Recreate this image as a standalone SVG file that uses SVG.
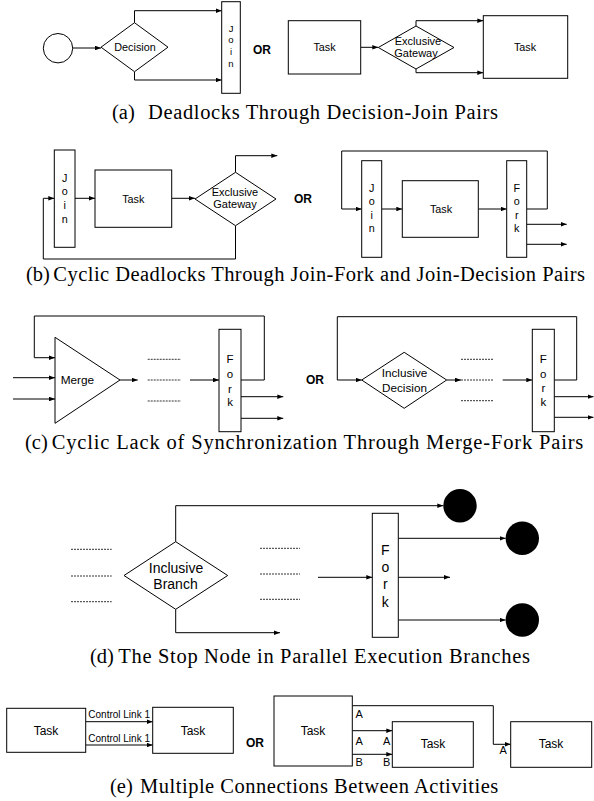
<svg xmlns="http://www.w3.org/2000/svg" width="594" height="801" viewBox="0 0 594 801">
<style>
.ln{fill:none;stroke:#000;stroke-width:1}
.ar{fill:none;stroke:#000;stroke-width:1;marker-end:url(#ah)}
.bx{fill:#fff;stroke:#000;stroke-width:1}
.ds{fill:none;stroke:#333;stroke-width:1;stroke-dasharray:2 1}
.t{font-family:"Liberation Sans",Arial,sans-serif;font-size:10.8px;fill:#000;text-anchor:middle}
.ts{font-family:"Liberation Sans",Arial,sans-serif;font-size:10px;fill:#000}
.or{font-family:"Liberation Sans",Arial,sans-serif;font-size:12px;font-weight:bold;fill:#000}
.cap{font-family:"Liberation Serif","Times New Roman",serif;font-size:20.5px;fill:#000}
</style>
<defs>
<marker id="ah" viewBox="0 0 6 4.6" refX="6" refY="2.3" markerWidth="6" markerHeight="4.6" orient="auto" markerUnits="userSpaceOnUse"><path d="M0,0 L6,2.3 L0,4.6 z" fill="#000"/></marker>
</defs>

<g id="connectors">
<!-- (a) -->
<path class="ar" d="M72.7,48 H101"/>
<path class="ar" d="M134.5,22.7 V10.7 H221.7"/>
<path class="ar" d="M134.5,71.7 V80 H221.7"/>
<path class="ar" d="M360.7,47.3 H378.3"/>
<path class="ar" d="M416,26 V20.7 H483.3"/>
<path class="ar" d="M416,69 V72.7 H483.3"/>
<!-- (b) -->
<path class="ar" d="M75,198.3 H95"/>
<path class="ar" d="M171.7,198.3 H195"/>
<path class="ar" d="M235.5,172.3 V155.7 H277.3"/>
<path class="ar" d="M235.5,225.7 V259 H43.3 V198.3 H54.3"/>
<path class="ar" d="M526.7,209 H547.3 V151 H341.7 V209 H361.7"/>
<path class="ar" d="M381.7,209 H402.3"/>
<path class="ar" d="M478.3,209 H506.7"/>
<path class="ar" d="M526.7,224.3 H566.7"/>
<path class="ar" d="M526.7,244.3 H566.7"/>
<!-- (c) -->
<path class="ar" d="M241,380 H264.3 V316 H34.3 V357.7 H55"/>
<path class="ar" d="M13,377.7 H55"/>
<path class="ar" d="M13,399 H55"/>
<path class="ar" d="M120,380 H137.7"/>
<path class="ds" d="M147.7,359.3 H181 M147.7,380 H181 M147.7,401 H181"/>
<path class="ar" d="M190,380 H219"/>
<path class="ar" d="M241,396.7 H283.3"/>
<path class="ar" d="M241,418.3 H283.3"/>
<path class="ar" d="M554.3,380 H576.7 V316.7 H337.3 V380 H361.7"/>
<path class="ar" d="M446.7,380 H461"/>
<path class="ds" d="M461,359.3 H493.3 M461,380 H493.3 M461,400.7 H493.3"/>
<path class="ar" d="M502.7,380 H532.3"/>
<path class="ar" d="M554.3,396.7 H593.5"/>
<path class="ar" d="M554.3,417.3 H593.5"/>
<!-- (d) -->
<path class="ds" d="M71,549.3 H111.7 M71,576 H111.7 M71,601.7 H111.7"/>
<path class="ar" d="M175.7,541.7 V505.7 H443.3"/>
<path class="ar" d="M175.7,609.3 V632.7 H280"/>
<path class="ds" d="M260,548.3 H300 M260,574 H300 M260,599.3 H300"/>
<path class="ar" d="M318,577.3 H372.3"/>
<path class="ar" d="M398.3,538.3 H505.6"/>
<path class="ar" d="M398.3,577.3 H450"/>
<path class="ar" d="M398.3,620 H505.6"/>
<!-- (e) -->
<path class="ar" d="M85.7,721.7 H152.7"/>
<path class="ar" d="M85.7,745 H152.7"/>
<path class="ar" d="M352.3,705.7 H493.3 V744.3 H510.7"/>
<path class="ar" d="M352.3,730.7 H392.3"/>
<path class="ar" d="M352.3,754.3 H392.3"/>
<text class="ts" x="88.3" y="718">Control Link 1</text>
<text class="ts" x="88.3" y="741.7">Control Link 1</text>
<text class="ts" x="355.5" y="718" style="font-size:11px">A</text>
<text class="ts" x="355.5" y="745" style="font-size:11px">A</text>
<text class="ts" x="383" y="745" style="font-size:11px">A</text>
<text class="ts" x="355.5" y="766" style="font-size:11px">B</text>
<text class="ts" x="383" y="766" style="font-size:11px">B</text>
<text class="ts" x="499.5" y="754" style="font-size:11px">A</text>
</g>

<!-- (a) nodes -->
<g id="a-start"><circle class="bx" cx="58" cy="48.2" r="14.7"/></g>
<g id="a-decision"><polygon class="bx" points="101,47.2 134.5,22.7 168,47.2 134.5,71.7"/><text class="t" x="135" y="51">Decision</text></g>
<g id="a-join"><rect class="bx" x="221.7" y="1.7" width="18.6" height="91.6"/>
<text class="t" style="font-size:9.5px" x="231" y="31.5">J</text><text class="t" style="font-size:9.5px" x="231" y="43">o</text><text class="t" style="font-size:9.5px" x="231" y="54.5">i</text><text class="t" style="font-size:9.5px" x="231" y="66.5">n</text></g>
<g id="a-or"><text class="or" x="253" y="54">OR</text></g>
<g id="a-task1"><rect class="bx" x="288.3" y="20.7" width="72.4" height="53.3"/><text class="t" x="324.5" y="50.5">Task</text></g>
<g id="a-gateway"><polygon class="bx" points="378.3,47.5 416,26 454,47.5 416,69"/><text class="t" style="font-size:11px" x="418" y="45">Exclusive</text><text class="t" style="font-size:11px" x="416" y="57">Gateway</text></g>
<g id="a-task2"><rect class="bx" x="483.3" y="15.7" width="84.4" height="62.6"/><text class="t" x="525" y="50.5">Task</text></g>
<g id="cap-a"><text class="cap" x="112" y="119">(a)</text><text class="cap" x="148" y="119" textLength="350" lengthAdjust="spacing">Deadlocks Through Decision-Join Pairs</text></g>

<!-- (b) nodes -->
<g id="b-join1"><rect class="bx" x="54.3" y="150" width="20.7" height="97.3"/>
<text class="t" x="64.7" y="181.5">J</text><text class="t" x="64.7" y="195">o</text><text class="t" x="64.7" y="209">i</text><text class="t" x="64.7" y="222.5">n</text></g>
<g id="b-task1"><rect class="bx" x="95" y="170" width="76.7" height="57.3"/><text class="t" x="133.3" y="202.5">Task</text></g>
<g id="b-gateway"><polygon class="bx" points="195,199 235.5,172.3 276,199 235.5,225.7"/><text class="t" style="font-size:11px" x="235" y="196">Exclusive</text><text class="t" style="font-size:11px" x="235" y="208.3">Gateway</text></g>
<g id="b-or"><text class="or" x="294" y="203.3">OR</text></g>
<g id="b-join2"><rect class="bx" x="361.7" y="160.7" width="20" height="96.6"/>
<text class="t" x="371.7" y="191.5">J</text><text class="t" x="371.7" y="205">o</text><text class="t" x="371.7" y="218.5">i</text><text class="t" x="371.7" y="232">n</text></g>
<g id="b-task2"><rect class="bx" x="402.3" y="180.7" width="76" height="56.6"/><text class="t" x="441" y="212.5">Task</text></g>
<g id="b-fork"><rect class="bx" x="506.7" y="160.7" width="20" height="96.6"/>
<text class="t" x="516.7" y="191.5">F</text><text class="t" x="516.7" y="205">o</text><text class="t" x="516.7" y="218.5">r</text><text class="t" x="516.7" y="232">k</text></g>
<g id="cap-b"><text class="cap" x="26" y="281">(b)</text><text class="cap" x="53.3" y="281" textLength="531.7" lengthAdjust="spacing">Cyclic Deadlocks Through Join-Fork and Join-Decision Pairs</text></g>

<!-- (c) nodes -->
<g id="c-merge"><polygon class="bx" points="55,337.3 120,380 55,423.3"/><text class="t" style="font-size:11.8px;text-anchor:start" x="60.7" y="384">Merge</text></g>
<g id="c-fork1"><rect class="bx" x="219" y="329.3" width="22" height="102.4"/>
<text class="t" style="font-size:11.5px" x="230" y="362.5">F</text><text class="t" style="font-size:11.5px" x="230" y="378">o</text><text class="t" style="font-size:11.5px" x="230" y="392.5">r</text><text class="t" style="font-size:11.5px" x="230" y="406">k</text></g>
<g id="c-or"><text class="or" x="306" y="384">OR</text></g>
<g id="c-decision"><polygon class="bx" points="361.7,380 404.2,352.3 446.7,380 404.2,408.3"/><text class="t" style="font-size:11.7px" x="404.5" y="377">Inclusive</text><text class="t" style="font-size:11.7px" x="404.5" y="391.5">Decision</text></g>
<g id="c-fork2"><rect class="bx" x="532.3" y="329.3" width="22" height="102.4"/>
<text class="t" style="font-size:11.5px" x="543.3" y="363">F</text><text class="t" style="font-size:11.5px" x="543.3" y="377.5">o</text><text class="t" style="font-size:11.5px" x="543.3" y="391.5">r</text><text class="t" style="font-size:11.5px" x="543.3" y="406">k</text></g>
<g id="cap-c"><text class="cap" x="25" y="449">(c)</text><text class="cap" x="51.7" y="449" textLength="531.6" lengthAdjust="spacing">Cyclic Lack of Synchronization Through Merge-Fork Pairs</text></g>

<!-- (d) nodes -->
<g id="d-branch"><polygon class="bx" points="124,575.5 175.7,541.7 227.7,575.5 175.7,609.3"/><text class="t" style="font-size:14px" x="176" y="572.5">Inclusive</text><text class="t" style="font-size:14px" x="175.5" y="589.3">Branch</text></g>
<g id="d-fork"><rect class="bx" x="372.3" y="513.3" width="26" height="124"/>
<text class="t" style="font-size:14px" x="385.3" y="555">F</text><text class="t" style="font-size:14px" x="385.3" y="572">o</text><text class="t" style="font-size:14px" x="385.3" y="589">r</text><text class="t" style="font-size:14px" x="385.3" y="606.5">k</text></g>
<g id="d-stop1"><circle cx="460" cy="505.7" r="16.7" fill="#000"/></g>
<g id="d-stop2"><circle cx="522.3" cy="538.3" r="16.7" fill="#000"/></g>
<g id="d-stop3"><circle cx="522.3" cy="620" r="16.7" fill="#000"/></g>
<g id="cap-d"><text class="cap" x="90" y="663">(d)</text><text class="cap" x="118.3" y="663" textLength="411.7" lengthAdjust="spacing">The Stop Node in Parallel Execution Branches</text></g>

<!-- (e) nodes -->
<g id="e-task1"><rect class="bx" x="6.7" y="708.3" width="79" height="44"/><text class="t" style="font-size:12px" x="46" y="735">Task</text></g>
<g id="e-task2"><rect class="bx" x="152.7" y="707.3" width="80.6" height="46"/><text class="t" style="font-size:12px" x="193" y="734.5">Task</text></g>
<g id="e-or"><text class="or" x="246" y="746.7">OR</text></g>
<g id="e-task3"><rect class="bx" x="274" y="696" width="78.3" height="70"/><text class="t" style="font-size:12px" x="313" y="735">Task</text></g>
<g id="e-task4"><rect class="bx" x="392.3" y="721.7" width="81" height="45.6"/><text class="t" style="font-size:12px" x="433" y="748">Task</text></g>
<g id="e-task5"><rect class="bx" x="510.7" y="721.7" width="81" height="45.6"/><text class="t" style="font-size:12px" x="551" y="748">Task</text></g>
<g id="cap-e"><text class="cap" x="110" y="793">(e)</text><text class="cap" x="140" y="793" textLength="358.3" lengthAdjust="spacing">Multiple Connections Between Activities</text></g>
</svg>
